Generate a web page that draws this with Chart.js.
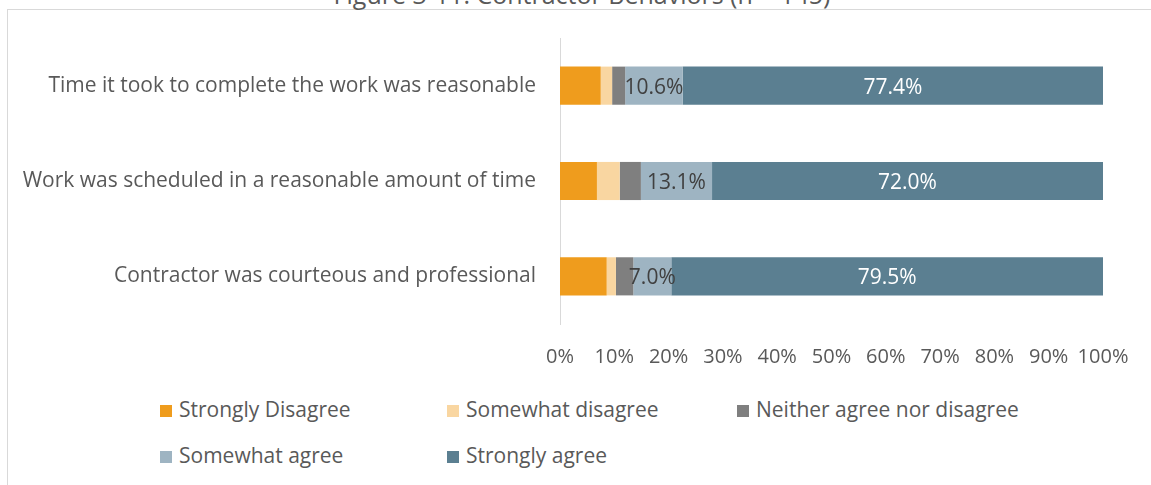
<!DOCTYPE html>
<html>
<head>
<meta charset="utf-8">
<script src="https://cdn.jsdelivr.net/npm/chart.js@4/dist/chart.umd.min.js"></script>
<style>
  body { margin: 0; background: #fff; font-family: "Open Sans", sans-serif; }
  #wrap { position: relative; width: 1151px; height: 485px; overflow: hidden; }
  #frame { position: absolute; left: 7px; top: 9px; width: 1150px; height: 480px;
           border-left: 1px solid #d9d9d9; border-top: 1px solid #d9d9d9; }
  #title { position: absolute; left: 0; width: 1164px; top: -18px; text-align: center;
           font-size: 25px; line-height: 25px; color: #595959; }
  #chart { position: absolute; left: 0; top: 0; }
  .leg { position: absolute; font-size: 21px; color: #595959; line-height: 24px; white-space: nowrap; }
  .leg i { display: inline-block; width: 12px; height: 12px; margin-right: 7px; vertical-align: 0px; }
</style>
</head>
<body>
<div id="wrap">
  <div id="frame"></div>
  <div id="title">Figure 3-11: Contractor Behaviors (n = 145)</div>
  <canvas id="chart" width="1151" height="385"></canvas>
  <div id="legend"></div>
</div>
<script>
const categories = [
  'Time it took to complete the work was reasonable',
  'Work was scheduled in a reasonable amount of time',
  'Contractor was courteous and professional'
];
const seriesNames = ['Strongly Disagree', 'Somewhat disagree', 'Neither agree nor disagree', 'Somewhat agree', 'Strongly agree'];
const stronglyDisagree = [7.5, 6.8, 8.6];
const somewhatDisagree = [2.1, 4.2, 1.7];
const neither = [2.4, 3.9, 3.2];
const somewhatAgree = [10.6, 13.1, 7.0];
const stronglyAgree = [77.4, 72.0, 79.5];
const colors = ['#EF9C1D', '#F9D6A1', '#7F7F7F', '#9EB4C2', '#5B7F91'];
const labelColors = [null, null, null, '#404040', '#ffffff'];
const xTicks = [0, 10, 20, 30, 40, 50, 60, 70, 80, 90, 100];

const values = [stronglyDisagree, somewhatDisagree, neither, somewhatAgree, stronglyAgree];
const FONT = 'Open Sans';

// value labels inside the agree segments
const segmentLabels = {
  id: 'segmentLabels',
  afterDatasetsDraw(chart) {
    const { ctx } = chart;
    ctx.save();
    ctx.font = '21px "' + FONT + '", sans-serif';
    ctx.textAlign = 'center';
    ctx.textBaseline = 'middle';
    chart.data.datasets.forEach((ds, i) => {
      if (!labelColors[i]) return;
      ctx.fillStyle = labelColors[i];
      chart.getDatasetMeta(i).data.forEach((bar, j) => {
        const x = (bar.x + bar.base) / 2;
        ctx.fillText(ds.data[j].toFixed(1) + '%', x, bar.y + 2);
      });
    });
    ctx.restore();
  }
};

new Chart(document.getElementById('chart'), {
  type: 'bar',
  data: {
    labels: categories,
    datasets: values.map((v, i) => ({
      label: seriesNames[i],
      data: v,
      backgroundColor: colors[i],
      categoryPercentage: 1,
      barPercentage: 0.4
    }))
  },
  options: {
    indexAxis: 'y',
    responsive: false,
    animation: false,
    layout: { padding: { top: 38, right: 48, bottom: 0, left: 0 } },
    plugins: { legend: { display: false }, tooltip: { enabled: false } },
    scales: {
      x: {
        stacked: true,
        min: 0,
        max: 100,
        afterBuildTicks: s => { s.ticks = xTicks.map(v => ({ value: v })); },
        afterFit: s => { s.height = 61; },
        grid: { display: false, drawTicks: false },
        border: { display: false },
        ticks: {
          color: '#595959', font: { family: FONT, size: 20 }, padding: 21,
          maxRotation: 0, minRotation: 0, autoSkip: false,
          callback: v => v + '%'
        }
      },
      y: {
        stacked: true,
        afterFit: s => { s.width = 560; },
        grid: { display: false, drawTicks: false },
        border: { color: '#d9d9d9', width: 1 },
        ticks: { color: '#595959', font: { family: FONT, size: 21 }, padding: 24 }
      }
    }
  },
  plugins: [segmentLabels]
});

// legend laid out in two rows of fixed columns
const legendPos = [[160, 397], [447, 397], [737, 397], [160, 443], [447, 443]];
const legend = document.getElementById('legend');
seriesNames.forEach((name, i) => {
  const d = document.createElement('div');
  d.className = 'leg';
  d.style.left = legendPos[i][0] + 'px';
  d.style.top = legendPos[i][1] + 'px';
  d.innerHTML = '<i style="background:' + colors[i] + '"></i>' + name;
  legend.appendChild(d);
});
</script>
</body>
</html>
